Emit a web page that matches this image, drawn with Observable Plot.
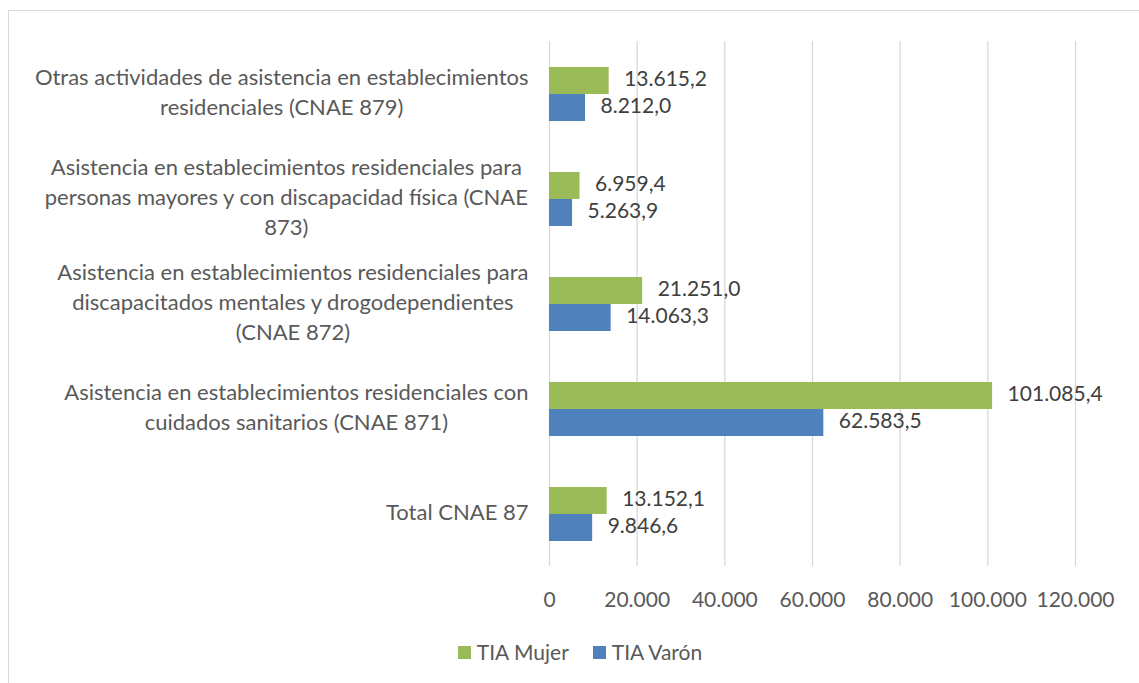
<!DOCTYPE html>
<html>
<head>
<meta charset="utf-8">
<script src="https://cdn.jsdelivr.net/npm/d3@7"></script>
<script src="https://cdn.jsdelivr.net/npm/@observablehq/plot@0.6"></script>
<style>
  html, body { margin: 0; padding: 0; background: #fff; overflow: hidden; }
  #wrap { position: relative; width: 1139px; height: 683px; overflow: hidden; font-family: Lato, "Open Sans", sans-serif; }
  #border { position: absolute; left: 8px; top: 10px; width: 1200px; height: 700px; border: 1px solid #d9d9d9; box-sizing: border-box; }
  #chart { position: absolute; left: 0; top: 0; }
  #legend { position: absolute; left: 0; top: 640px; width: 1160px; display: flex; justify-content: center; gap: 24px; font-size: 21px; line-height: 24px; color: #595959; }
  .item { display: flex; align-items: center; gap: 6px; }
  .sw { width: 13px; height: 13px; display: inline-block; }
</style>
</head>
<body>
<div id="wrap">
  <div id="border"></div>
  <div id="chart"></div>
  <div id="legend"></div>
</div>
<script>
const categories = [
  "Otras actividades de asistencia en establecimientos\nresidenciales (CNAE 879)",
  "Asistencia en establecimientos residenciales para\npersonas mayores y con discapacidad física (CNAE\n873)",
  "Asistencia en establecimientos residenciales para\ndiscapacitados mentales y drogodependientes\n(CNAE 872)",
  "Asistencia en establecimientos residenciales con\ncuidados sanitarios (CNAE 871)",
  "Total CNAE 87"
];
const series = ["TIA Mujer", "TIA Varón"];
const colors = ["#9bbb59", "#4f81bd"];
const mujer = [13615.2, 6959.4, 21251.0, 101085.4, 13152.1];
const varon = [8212.0, 5263.9, 14063.3, 62583.5, 9846.6];
const xTicks = [0, 20000, 40000, 60000, 80000, 100000, 120000];

const locale = d3.formatLocale({decimal: ",", thousands: ".", grouping: [3], currency: ["", " €"]});
const fmtVal = locale.format(",.1f");
const fmtTick = locale.format(",.0f");

const data = [];
categories.forEach((c, i) => {
  data.push({category: c, series: series[0], value: mujer[i]});
  data.push({category: c, series: series[1], value: varon[i]});
});

const FONT = 'Lato, "Open Sans", sans-serif';
const FS_CAT = 22;
const FS_NUM = 21;
const canvas = document.createElement("canvas");
const ctx = canvas.getContext("2d");
ctx.font = `${FS_CAT}px Lato`;
const blockWidth = (s) => Math.max(...s.split("\n").map(l => ctx.measureText(l).width));
const labelData = categories.map(c => ({category: c, w: blockWidth(c)}));

const W = 1139, H = 625;
const chart = Plot.plot({
  width: W,
  height: H,
  marginLeft: 549,
  marginRight: 64,
  marginTop: 39,
  marginBottom: H - 567,
  style: {fontFamily: FONT, fontSize: FS_NUM + "px", color: "#595959", background: "transparent", overflow: "visible"},
  x: {domain: [0, 120000], axis: null},
  y: {domain: series, axis: null, paddingInner: 0, paddingOuter: 0.88},
  fy: {domain: categories, axis: null, padding: 0},
  color: {domain: series, range: colors},
  marks: [
    Plot.gridX(xTicks, {stroke: "#d9d9d9", strokeOpacity: 1, strokeWidth: 1.3}),
    Plot.barX(data, {x: "value", y: "series", fy: "category", fill: "series"}),
    Plot.text(data, {x: "value", y: "series", fy: "category", text: d => fmtVal(d.value), textAnchor: "start", dx: 15, dy: -2, fill: "#404040", fontSize: FS_NUM}),
    ...labelData.map(d => Plot.text([d], {fy: "category", text: "category", frameAnchor: "left", textAnchor: "middle", lineHeight: 30 / FS_CAT, dx: -(21 + d.w / 2), dy: -4, fill: "#595959", fontSize: FS_CAT})),
    Plot.axisX({ticks: xTicks, tickSize: 0, tickPadding: 26, tickFormat: fmtTick, fontSize: FS_NUM, color: "#595959", anchor: "bottom", label: null})
  ]
});
document.getElementById("chart").appendChild(chart);

const legend = document.getElementById("legend");
series.forEach((s, i) => {
  const item = document.createElement("span");
  item.className = "item";
  const sw = document.createElement("span");
  sw.className = "sw";
  sw.style.background = colors[i];
  const t = document.createElement("span");
  t.textContent = s;
  item.appendChild(sw);
  item.appendChild(t);
  legend.appendChild(item);
});
</script>
</body>
</html>
